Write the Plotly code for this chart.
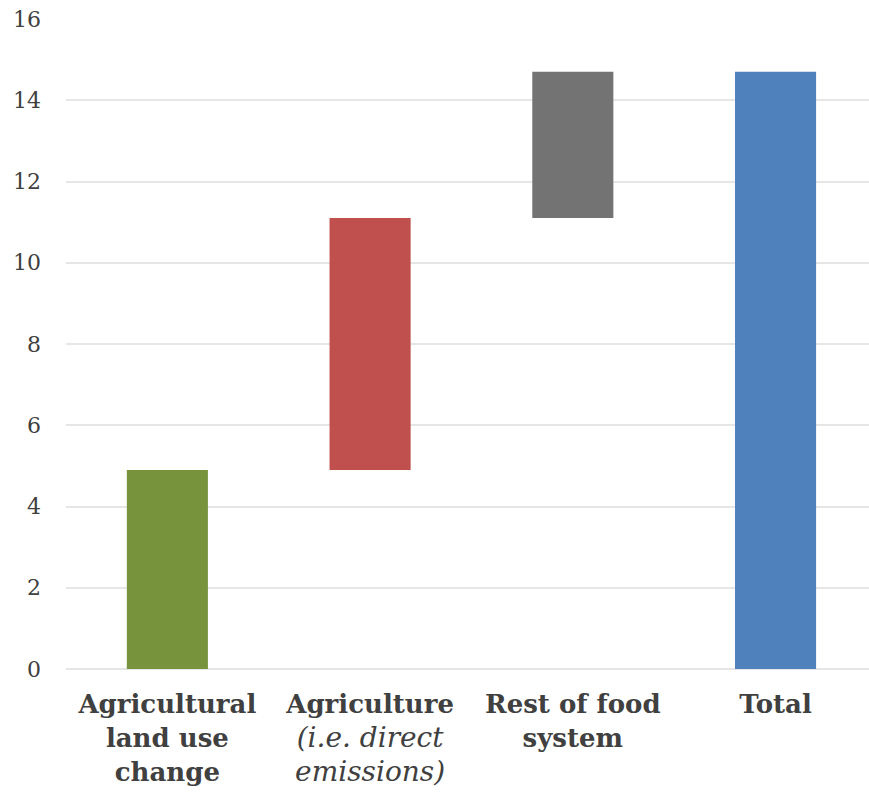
import plotly.graph_objects as go

categories = [
    "<b>Agricultural</b><br><b>land use</b><br><b>change</b>",
    "<b>Agriculture</b><br><i><span style='font-size:28px'>(i.e. direct</span></i><br><i><span style='font-size:28px'>emissions)</span></i>",
    "<b>Rest of food</b><br><b>system</b>",
    "<b>Total</b>",
]
contributions = [4.9, 6.2, 3.6]
total = 14.7
colors = ["#77933C", "#C0504D", "#737373", "#4F81BD"]
y_ticks = [0, 2, 4, 6, 8, 10, 12, 14, 16]

bases = [0, contributions[0], contributions[0] + contributions[1], 0]
heights = contributions + [total]

fig = go.Figure(
    go.Bar(
        x=categories,
        y=heights,
        base=bases,
        marker=dict(color=colors, line=dict(width=0)),
        width=0.4,
        hoverinfo="skip",
    )
)

font_family = "Georgia, 'DejaVu Serif', serif"
fig.update_layout(
    width=869,
    height=801,
    margin=dict(l=66, r=0, t=19, b=132),
    plot_bgcolor="white",
    paper_bgcolor="white",
    showlegend=False,
    font=dict(family=font_family, color="#404040"),
)
fig.update_xaxes(
    type="category",
    range=[-0.5, 3.461],
    showgrid=False,
    showline=False,
    zeroline=False,
    ticks="",
    tickfont=dict(size=26, family=font_family, color="#404040"),
    ticklabelstandoff=17,
)
fig.update_yaxes(
    range=[0, 16],
    tickvals=y_ticks,
    showgrid=True,
    gridcolor="#E6E6E6",
    gridwidth=2,
    zeroline=True,
    zerolinecolor="#E6E6E6",
    zerolinewidth=2,
    showline=False,
    ticks="",
    tickfont=dict(size=22, family=font_family, color="#404040"),
    ticklabelstandoff=24,
)

fig.write_html("out.html")
